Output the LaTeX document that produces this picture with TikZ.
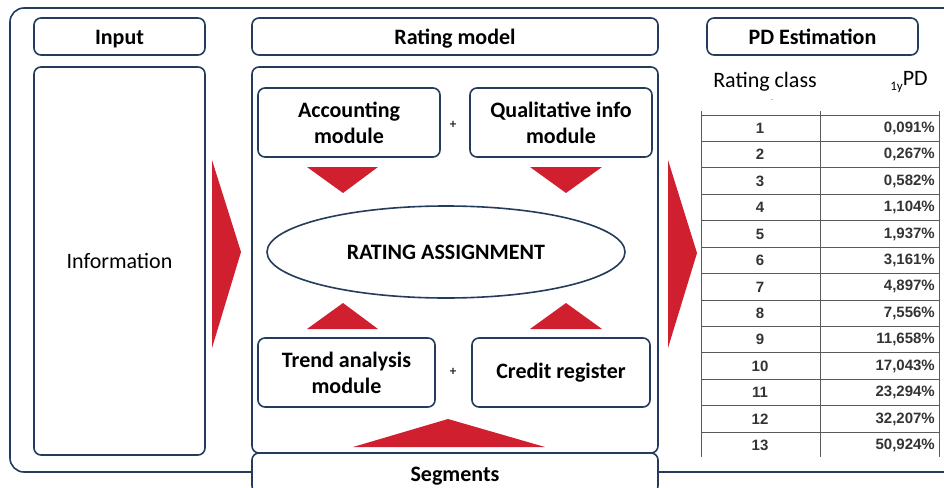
\documentclass[tikz,border=0pt]{standalone}
\usepackage{xcolor}
\usepackage{fontspec}
\setmainfont{Carlito}
\newfontfamily\tabfont{Liberation Sans}
\usepackage{tikz}
\usetikzlibrary{positioning, shapes.geometric}

\definecolor{navy}{HTML}{243B5C}
\definecolor{redarrow}{HTML}{D0202F}
\definecolor{gridgray}{HTML}{5A5A5A}

\tikzset{
    frame/.style={draw=navy, line width=1.6pt, rounded corners=7pt, inner sep=0pt, outer sep=0pt},
    headbox/.style={frame, fill=white, minimum height=37pt, text height=17pt, text depth=0pt,
                    font=\fontsize{22}{26}\selectfont\bfseries},
    bodybox/.style={frame, font=\fontsize{22}{26}\selectfont},
    modbox/.style={frame, minimum height=69pt, align=center, font=\fontsize{22}{26}\selectfont\bfseries},
    plus/.style={font=\fontsize{13}{13}\selectfont\bfseries, text=black!85},
    redtri/.style={fill=redarrow, draw=none},
    cell/.style={font=\tabfont\fontsize{15}{17}\selectfont\bfseries, text=black!80, inner sep=0pt}
}

\begin{document}
\begin{tikzpicture}[x=1pt, y=-1pt, node distance=12pt]
    \useasboundingbox (0,0) rectangle (944,487);

        % Outer frame
        \draw[frame, rounded corners=14pt] (10,8) rectangle (975,472);

        % Header nodes
        \node[headbox, minimum width=171pt] (inhead) at (119.5,36.5) {Input};
        \node[headbox, minimum width=406pt, right=47pt of inhead] (ratehead) {Rating model};
        \node[headbox, minimum width=211pt, right=49pt of ratehead] (pdhead) {PD Estimation};

        % Body boxes
        \node[bodybox, minimum width=171pt, minimum height=388pt, below=of inhead] (info) {Information};
        \node[bodybox, minimum width=406pt, minimum height=386pt, below=of ratehead] (ratebody) {};
        \node[headbox, minimum width=406pt, minimum height=40pt, below=0pt of ratebody] (seg) {Segments};

        % Modules of the rating model
        \node[modbox, minimum width=182pt] (acc) at (349,122.5) {Accounting\\module};
        \node[modbox, minimum width=182pt, right=30pt of acc] (qual) {Qualitative info\\module};
        \node[modbox, minimum width=177pt] (trend) at (346.5,372.5) {Trend analysis\\module};
        \node[modbox, minimum width=178pt, right=37pt of trend] (credit) {Credit register};
        \node[draw=navy, line width=1.6pt, ellipse, minimum width=358pt, minimum height=92pt, inner sep=0pt,
              font=\fontsize{22}{26}\selectfont\bfseries] (assign) at (446,252) {RATING ASSIGNMENT};
        \node[plus] (plus1) at (453,125) {+};
        \node[plus] (plus2) at (453,372) {+};

        % Red arrows
        \fill[redtri] (212,160) -- (241,252) -- (212,348) -- cycle;
        \fill[redtri] (668,160) -- (697,253) -- (668,348) -- cycle;
        \fill[redtri] (307,167) -- (378,167) -- (343,193) -- cycle;
        \fill[redtri] (530,167) -- (602,167) -- (566,193) -- cycle;
        \fill[redtri] (307,329) -- (378,329) -- (343,303) -- cycle;
        \fill[redtri] (530,329) -- (602,329) -- (566,303) -- cycle;
        \fill[redtri] (353,447) -- (545,447) -- (448,419) -- cycle;

        % PD table
        \node[font=\fontsize{22}{26}\selectfont] (classhead) at (765,82) {Rating class};
        \node[font=\fontsize{22}{26}\selectfont] (pdcol) at (909,82) {\raisebox{-5pt}{\fontsize{13}{13}\selectfont 1y}PD};
        \node[font=\fontsize{8}{8}\selectfont, text=gray] (dash) at (772,101) {-};
        \foreach \x in {701, 820, 939}
            \draw[gridgray, line width=1pt] (\x,111) -- (\x,457);
        \foreach \cls/\pd [count=\i] in {1/{0,091\%}, 2/{0,267\%}, 3/{0,582\%}, 4/{1,104\%}, 5/{1,937\%},
                6/{3,161\%}, 7/{4,897\%}, 8/{7,556\%}, 9/{11,658\%}, 10/{17,043\%},
                11/{23,294\%}, 12/{32,207\%}, 13/{50,924\%}} {
            \draw[gridgray, line width=1pt] (701,115+26.44*\i-26.44) -- (939,115+26.44*\i-26.44);
            \node[cell] (cls\i) at (760,115+26.44*\i-13.22) {\cls};
            \node[cell, anchor=east] (pd\i) at (935,115+26.44*\i-13.22) {\pd};
        }

    \end{tikzpicture}
\end{document}
